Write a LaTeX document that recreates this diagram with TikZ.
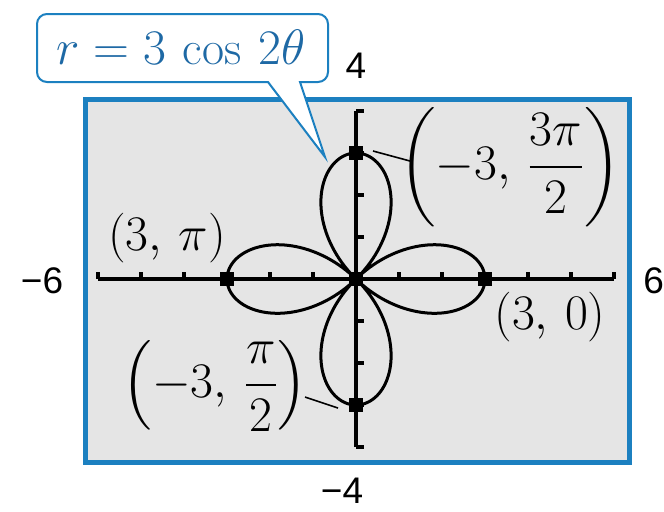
\documentclass[tikz,border=0pt]{standalone}
\usepackage{amsmath}
\usepackage{fontspec}
\newfontfamily\axisfont{Liberation Sans}
\definecolor{frameblue}{RGB}{28,128,192}
\definecolor{textblue}{RGB}{30,105,165}
\definecolor{screengray}{RGB}{229,229,229}
\tikzset{
  screen/.style={draw=frameblue, fill=screengray, line width=2.5pt},
  axisline/.style={line width=2pt, black},
  tickmark/.style={line width=1.6pt, black},
  curveline/.style={line width=1.5pt, black, line join=round},
  leader/.style={line width=0.8pt, black},
  ptlabel/.style={inner sep=0pt, font=\fontsize{23}{28}\selectfont},
  axislabel/.style={inner sep=0pt, font=\axisfont\fontsize{18.5}{22}\selectfont},
  calloutbox/.style={draw=frameblue, fill=white, line width=1pt},
}
\begin{document}
\begin{tikzpicture}[x=0.5pt,y=-0.5pt]
\useasboundingbox (0,0) rectangle (664,511);
\fill[white] (0,0) rectangle (664,511);
% screen
\draw[screen] (85.5,99.5) rectangle (629.5,462.5);
\begin{scope}[shift={(356,279)}, x=21.5pt, y=21pt]
  \coordinate (O) at (0,0);
  \coordinate (P1) at (0,3);
  \coordinate (P2) at (0,-3);
  \coordinate (P3) at (3,0);
  \coordinate (P4) at (-3,0);
  \draw[axisline] (-6,0) -- (6,0);
  \draw[axisline] (0,-4) -- (0,4);
  \foreach \i in {-6,...,6} \draw[tickmark] (\i,0) -- ++(0,0.16);
  \foreach \j in {-4,...,4} \draw[tickmark] (0,\j) -- ++(0.18,0);
  \draw[curveline] plot[domain=0:360, samples=361, smooth]
     ({3*cos(2*\x)*cos(\x)},{3*cos(2*\x)*sin(\x)}) -- cycle;
  \foreach \p in {O,P1,P2,P3,P4}
    \fill (\p) +(-0.16,-0.16) rectangle +(0.16,0.16);
\end{scope}
% callout
\coordinate (tip) at (325,157);
\filldraw[calloutbox] (tip) -- (300,82) {[rounded corners=5pt] -- (328,82) -- (328,14) -- (37,14) -- (37,82)} -- (268,82) -- cycle;
\node[inner sep=0pt, text=textblue, font=\fontsize{24}{28}\selectfont] (eq) at (181,47) {$r = 3\,\cos\,2\theta$};
% point labels
\node[ptlabel] (l1) at (510,167) {$\left(-3,\, \dfrac{3\pi}{2}\right)$};
\node[ptlabel] (l2) at (215,386) {$\left(-3,\, \dfrac{\pi}{2}\right)$};
\node[ptlabel] (l3) at (167,238) {$(3,\, \pi)$};
\node[ptlabel] (l4) at (550,317) {$(3,\, 0)$};
\coordinate (a1) at (373,151);
\coordinate (a2) at (410,161);
\coordinate (b1) at (305,397);
\coordinate (b2) at (338,408);
\draw[leader] (a1) -- (a2);
\draw[leader] (b1) -- (b2);
% axis labels
\node[axislabel] (ytop) at (356,66) {4};
\node[axislabel] (ybot) at (342,491) {−4};
\node[axislabel] (xleft) at (42,281) {−6};
\node[axislabel, anchor=west] (xright) at (643,281) {6};
\end{tikzpicture}
\end{document}
